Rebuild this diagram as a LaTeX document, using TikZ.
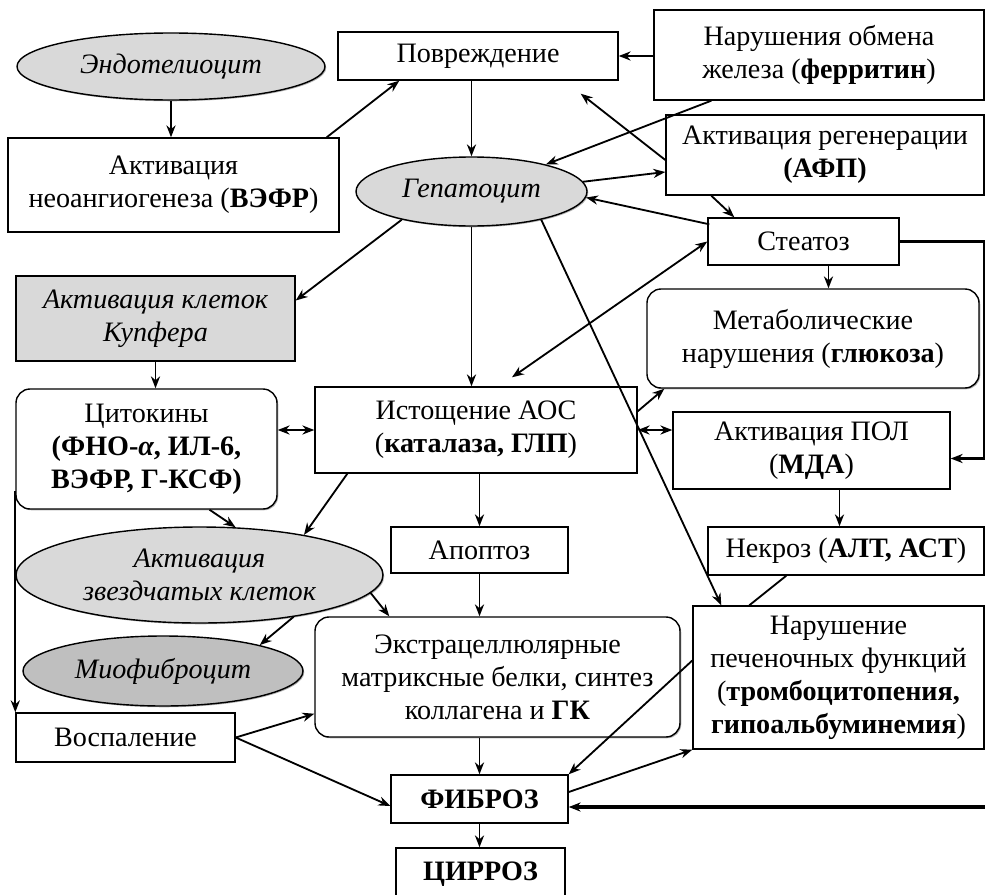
\documentclass[tikz,border=0pt]{standalone}
\usepackage{fontspec}
\setmainfont{Liberation Serif}
\usetikzlibrary{shapes.geometric,arrows.meta,calc,shadows}

\begin{document}
\begin{tikzpicture}[x=0.025cm,y=-0.025cm,
  font=\fontsize{20}{23.5}\selectfont,
  sz/.style 2 args={minimum width=#1*0.025cm,minimum height=#2*0.025cm},
  shade/.style={drop shadow={shadow xshift=0.9pt,shadow yshift=-0.9pt,opacity=0.6}},
  box/.style={draw,line width=1pt,fill=white,align=center,inner sep=1pt,shade},
  rbox/.style={box,rounded corners=10pt},
  gbox/.style={box,fill=gray!30,font=\fontsize{20}{23.5}\selectfont\itshape},
  cell/.style={ellipse,draw,line width=1pt,fill=gray!30,align=center,inner sep=0pt,
    font=\fontsize{20}{23.5}\selectfont\itshape,shade},
  tip/.tip={Stealth[length=8.5pt,width=6.5pt]},
  arr/.style={-tip,line width=1.3pt},
  darr/.style={tip-tip,line width=1.3pt}]
\useasboundingbox (0,0) rectangle (985,894);

% top row
\node[cell,sz={308}{67},inner xsep=-6pt] (endo) at (171,66.5) {Эндотелиоцит};
\node[box,sz={280}{48}] (povr) at (478,56) {Повреждение};
\node[box,sz={330}{90}] (iron) at (819,55) {Нарушения обмена\\железа (\textbf{ферритин})};
\node[box,sz={331}{94}] (angio) at (173.5,185) {Активация\\неоангиогенеза (\textbf{ВЭФР})};
\node[cell,sz={231}{69}] (hep) at (471.5,191.5) {Гепатоцит};
\node[box,sz={318}{80}] (regen) at (825,155) {Активация регенерации\\\textbf{(АФП)}};
\node[box,sz={191}{47}] (steat) at (803.5,241.5) {Стеатоз};

% middle
\node[gbox,sz={279}{85}] (kupf) at (155.5,318.5) {Активация клеток\\Купфера};
\node[rbox,sz={332}{99}] (metab) at (813,338.5) {Метаболические\\нарушения (\textbf{глюкоза})};
\node[rbox,sz={261}{120}] (cyto) at (146.5,449) {Цитокины\\\textbf{(ФНО-\textit{α}, ИЛ-6,}\\\textbf{ВЭФР, Г-КСФ)}};
\node[box,sz={322}{86}] (aos) at (476,430) {Истощение АОС\\(\textbf{каталаза, ГЛП})};
\node[box,sz={277}{77}] (pol) at (811.5,450.5) {Активация ПОЛ\\(\textbf{МДА})};
\node[box,sz={177}{46}] (apopt) at (479.5,550) {Апоптоз};
\node[box,sz={276}{48}] (necr) at (846,551) {Некроз (\textbf{АЛТ, АСТ})};

% bottom
\node[cell,sz={367}{96}] (stell) at (199.5,575) {Активация\\звездчатых клеток};
\node[cell,sz={280}{70},fill=gray!50] (myo) at (163,671) {Миофиброцит};
\node[rbox,sz={365}{120}] (ecm) at (497.5,677) {Экстрацеллюлярные\\матриксные белки, синтез\\коллагена и \textbf{ГК}};
\node[box,sz={291}{143}] (liver) at (838.5,677.5) {Нарушение\\печеночных функций\\(\textbf{тромбоцитопения,}\\\textbf{гипоальбуминемия})};
\node[box,sz={219}{49}] (infl) at (125.5,737.5) {Воспаление};
\node[box,sz={177}{48}] (fib) at (479.5,799) {\textbf{ФИБРОЗ}};
\node[box,sz={169}{52}] (cirr) at (480.5,874) {\textbf{ЦИРРОЗ}};

\coordinate (rgt) at (984,0);
\coordinate (rin) at (985,807);

% connectors
\draw[arr] (endo) -- (endo |- angio.north);
\draw[arr] ($(angio.north east)+(-13,0)$) -- ($(povr.south west)+(62,0)$);
\draw[arr] (hep.north |- povr.south) -- (hep.north);
\draw[arr] (iron.west |- povr.east) -- (povr.east);
\draw[arr] ($(iron.south west)+(58,0)$) -- (hep.20);
\draw[arr] ($(regen.west)+(0,5)$) -- ($(povr.south east)+(-38,13)$);
\draw[arr] (hep.5) -- ($(regen.west)+(0,17)$);
\draw[arr] ($(steat.north west)+(2,7)$) -- (hep.-3);
\draw[arr] ($(regen.south west)+(46,0)$) -- ($(steat.north west)+(27,0)$);
\draw[arr] ($(steat.south)+(25,0)$) coordinate (s1) -- (s1 |- metab.north);
\draw[arr,line width=1.6pt] (steat.east) -- (steat.east -| rgt) |- ($(pol.east)+(0,8)$);
\draw[darr] (steat.west) -- ($(aos.north)+(36,-9)$);
\draw[arr] (hep.-22) -- ($(liver.north west)+(29,0)$);
\draw[arr] (hep) -- (hep |- aos.north);
\draw[arr] (hep.202) -- ($(kupf.east)+(0,-18)$);
\draw[arr] (kupf) -- (kupf |- cyto.north);
\draw[darr] (cyto.east |- aos.west) -- (aos.west);
\draw[arr] ($(aos.north east)+(0,25)$) -- ($(metab.south west)+(18,0)$);
\draw[darr] (aos.east) -- (aos.east -| pol.west);
\draw[arr] ($(pol.south)+(28,0)$) coordinate (p1) -- (p1 |- necr.north);
\draw[line width=1.3pt] ($(necr.south west)+(79,0)$) -- ($(liver.north west)+(57,0)$);
\draw[arr] (apopt.north |- aos.south) -- (apopt.north);
\draw[arr] ($(aos.south west)+(33,0)$) -- (stell.21);
\draw[arr] ($(cyto.south)+(63,0)$) -- (stell.53);
\draw[arr] ($(cyto.south west)+(0,-19)$) coordinate (c1) -- (c1 |- infl.north);
\draw[arr] (stell.-6) -- ($(ecm.north west)+(75,0)$);
\draw[arr] (stell.-24) -- (myo.15);
\draw[arr] (apopt) -- (apopt |- ecm.north);
\draw[arr] (infl.east) -- ($(ecm.south west)+(0,-24)$);
\draw[arr] (infl.east) -- ($(fib.west)+(0,7)$);
\draw[arr] (fib.north |- ecm.south) -- (fib.north);
\draw[arr] ($(liver.west)+(0,-17)$) -- (fib.north east);
\draw[arr] ($(fib.east)+(0,-7)$) -- (liver.south west);
\draw[arr,line width=2.2pt] (rin) -- (rin -| fib.east);
\draw[arr] (fib) -- (fib |- cirr.north);
\end{tikzpicture}
\end{document}
